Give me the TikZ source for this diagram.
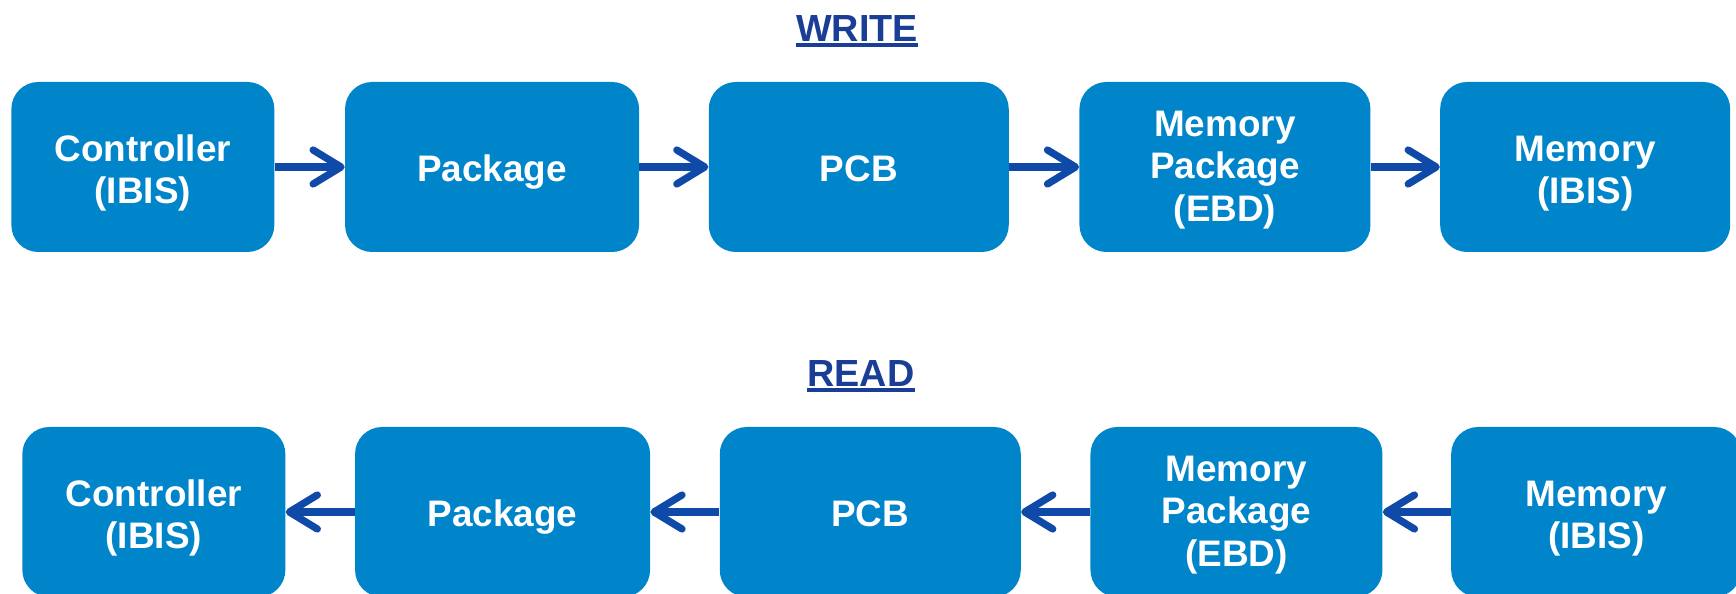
\documentclass[tikz,border=0pt]{standalone}
\usepackage{fontspec}
\setmainfont{Liberation Sans}
\usetikzlibrary{positioning,arrows.meta}
\definecolor{boxblue}{RGB}{0,132,202}
\definecolor{arrowblue}{RGB}{16,74,168}
\definecolor{titleblue}{RGB}{26,62,150}
\newcommand\ulword[1]{\setbox0\hbox{#1}\rlap{\rule[-3.4pt]{\wd0}{2.3pt}}\box0}
\begin{document}
\begin{tikzpicture}[
  blk/.style={fill=boxblue, rounded corners=0.54cm, inner sep=0pt, minimum height=3.4cm, text=white, align=center,
    font=\fontsize{21}{24}\selectfont\bfseries, text height=21pt, text depth=4.8pt},
  two/.style={text height=46.3pt},
  three/.style={text height=66.4pt},
  flow/.style={arrowblue, line width=0.145cm, -{Straight Barb[length=0.56cm, width=0.68cm, round]}},
  heading/.style={titleblue, anchor=base, inner sep=0pt, font=\fontsize{21.5}{24}\selectfont\bfseries}
]
\useasboundingbox (0,0) rectangle (34.72,11.86);
% write direction
\node[heading] (wtitle) at (17.14,11.03) {\ulword{WRITE}};
\node[blk, two, minimum width=5.26cm, anchor=west] (w1) at (0.22,8.52) {Controller\\(IBIS)};
\node[blk, minimum width=5.88cm, right=1.4cm of w1] (w2) {Package};
\node[blk, minimum width=6.0cm, right=1.38cm of w2] (w3) {PCB};
\node[blk, three, minimum width=5.82cm, right=1.4cm of w3] (w4) {Memory\\Package\\(EBD)};
\node[blk, two, minimum width=5.8cm, right=1.38cm of w4] (w5) {Memory\\(IBIS)};
\draw[flow] (w1) -- (w2);
\draw[flow] (w2) -- (w3);
\draw[flow] (w3) -- (w4);
\draw[flow] (w4) -- (w5);
% read direction
\node[heading] (rtitle) at (17.22,4.13) {\ulword{READ}};
\node[blk, two, minimum width=5.26cm, anchor=west] (r1) at (0.44,1.62) {Controller\\(IBIS)};
\node[blk, minimum width=5.9cm, right=1.38cm of r1] (r2) {Package};
\node[blk, minimum width=6.02cm, right=1.38cm of r2] (r3) {PCB};
\node[blk, three, minimum width=5.84cm, right=1.38cm of r3] (r4) {Memory\\Package\\(EBD)};
\node[blk, two, minimum width=5.8cm, right=1.36cm of r4] (r5) {Memory\\(IBIS)};
\draw[flow] (r2) -- (r1);
\draw[flow] (r3) -- (r2);
\draw[flow] (r4) -- (r3);
\draw[flow] (r5) -- (r4);
\end{tikzpicture}
\end{document}
